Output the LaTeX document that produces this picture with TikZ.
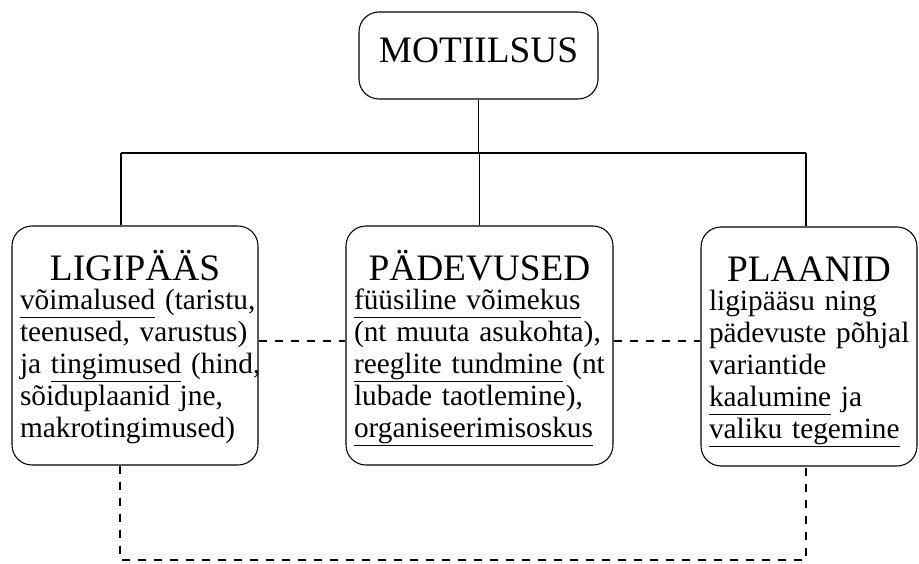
\documentclass[tikz,border=0pt]{standalone}
\usepackage{fontspec}
\setmainfont{Liberation Serif}

\newcommand{\sisu}{\fontsize{22}{24}\selectfont}
\newcommand{\pealk}{\fontsize{28}{30}\selectfont}
\newcommand{\pealkiri}[1]{\makebox[\linewidth]{\pealk #1}}
\newcommand{\rida}[1]{\makebox[\linewidth][l]{#1}}
\newcommand{\jooneta}[1]{\underline{\vphantom{(}#1}}

\tikzset{
  kast/.style={draw, rounded corners=15pt, line width=0.8pt, inner xsep=6pt, inner ysep=0pt,
    align=left, text height=41pt, text depth=138.25pt, font=\sisu},
  juur/.style={draw, rounded corners=15pt, line width=0.8pt, inner ysep=0pt, minimum width=179.25pt,
    text height=38.25pt, text depth=27pt, font=\pealk},
  seos/.style={line width=0.8pt},
  kriips/.style={line width=0.8pt, dash pattern=on 6.5pt off 5.5pt},
}

\begin{document}
\begin{tikzpicture}[x=0.75pt, y=-0.75pt]
    \useasboundingbox (0,0) rectangle (919,563);

    % Main box on top
    \node[juur] (mot) at (478.5,55.5) {MOTIILSUS};

    % Three boxes in a row
    \node[kast, text width=172.5pt] (lig) at (135,345.5) {\pealkiri{LIGIPÄÄS}\\[-2.5pt]
      \rida{\jooneta{võimalused} (taristu,}\\
      \rida{teenused, varustus)}\\
      \rida{ja \jooneta{tingimused} (hind,}\\
      \rida{sõiduplaanid jne,}\\
      \rida{makrotingimused)}};
    \node[kast, text width=188.25pt] (ped) at (479.5,345.5) {\pealkiri{PÄDEVUSED}\\[-2.5pt]
      \rida{\jooneta{füüsiline võimekus}}\\
      \rida{(nt muuta asukohta),}\\
      \rida{\jooneta{reeglite tundmine} (nt}\\
      \rida{lubade taotlemine),}\\
      \rida{\jooneta{organiseerimisoskus}}};
    \node[kast, text width=150pt] (pla) at (809,346.5) {\pealkiri{PLAANID}\\[-2.5pt]
      \rida{ligipääsu ning}\\
      \rida{pädevuste põhjal}\\
      \rida{variantide}\\
      \rida{\jooneta{kaalumine} ja}\\
      \rida{\jooneta{valiku tegemine}}};

    % Solid tree lines
    \coordinate (jl) at (121,153);
    \coordinate (jr) at (806,153);
    \draw[seos] (mot.south) -- (mot.south |- jl);
    \draw[seos] (jl) -- (jr);
    \draw[seos] (jl) -- (jl |- lig.north);
    \draw[seos] (ped.north) -- (ped.north |- jl);
    \draw[seos] (jr) -- (jr |- pla.north);

    % Dashed links between the boxes
    \coordinate (kesk) at (0,341);
    \draw[kriips] (lig.east |- kesk) -- (ped.west |- kesk);
    \draw[kriips] (ped.east |- kesk) -- (pla.west |- kesk);

    % Dashed link underneath
    \coordinate (al) at (120,560);
    \coordinate (ar) at (806,560);
    \draw[kriips] (al |- lig.south) -- (al) -- (ar) -- (ar |- pla.south);

\end{tikzpicture}
\end{document}
